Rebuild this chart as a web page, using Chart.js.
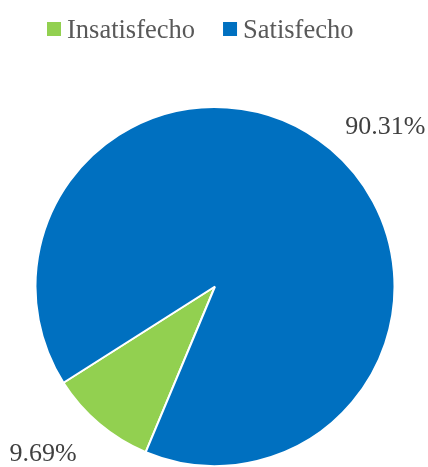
<!DOCTYPE html>
<html>
<head>
<meta charset="utf-8">
<title>Satisfacción</title>
<script src="https://cdn.jsdelivr.net/npm/chart.js@4/dist/chart.umd.min.js"></script>
<style>
  html, body { margin: 0; padding: 0; background: #ffffff; }
  #wrap { width: 428px; height: 467px; }
</style>
</head>
<body>
<div id="wrap"><canvas id="pie" width="428" height="467"></canvas></div>
<script>
// Response categories and their share of respondents (%)
const categories = ['Insatisfecho', 'Satisfecho'];
const shares = [9.69, 90.31];
const shareLabels = ['9.69%', '90.31%'];

const serif = "'Liberation Serif', 'Times New Roman', serif";

// Legend row along the top, drawn from the chart's own labels and colours
const topLegend = {
  id: 'topLegend',
  afterDraw(chart, args, opts) {
    const ctx = chart.ctx;
    const ds = chart.data.datasets[0];
    ctx.save();
    ctx.font = opts.size + 'px ' + serif;
    ctx.textBaseline = 'alphabetic';
    ctx.textAlign = 'left';
    let x = opts.x;
    chart.data.labels.forEach((lab, i) => {
      ctx.fillStyle = ds.backgroundColor[i];
      ctx.fillRect(x, opts.boxTop, opts.box, opts.box);
      const tx = x + opts.box + opts.textGap;
      ctx.fillStyle = opts.color;
      ctx.fillText(lab, tx, opts.baseline);
      x = tx + ctx.measureText(lab).width + opts.itemGap;
    });
    ctx.restore();
  }
};

// Percentage labels placed outside each slice
const outsideLabels = {
  id: 'outsideLabels',
  afterDatasetsDraw(chart, args, opts) {
    const ctx = chart.ctx;
    const meta = chart.getDatasetMeta(0);
    ctx.save();
    ctx.font = opts.size + 'px ' + serif;
    ctx.fillStyle = opts.color;
    ctx.textAlign = 'center';
    ctx.textBaseline = 'middle';
    meta.data.forEach((arc, i) => {
      const p = arc.getProps(['x', 'y', 'startAngle', 'endAngle', 'outerRadius'], true);
      const place = opts.placement[i];
      const a = (p.startAngle + p.endAngle) / 2 + place.turn * Math.PI / 180;
      const r = p.outerRadius * place.reach;
      ctx.fillText(chart.data.datasets[0].labelText[i], p.x + Math.cos(a) * r, p.y + Math.sin(a) * r);
    });
    ctx.restore();
  }
};

new Chart(document.getElementById('pie'), {
  type: 'pie',
  data: {
    labels: categories,
    datasets: [{
      data: shares,
      labelText: shareLabels,
      backgroundColor: ['#92D050', '#0070C0'],
      borderColor: '#ffffff',
      borderWidth: 2
    }]
  },
  options: {
    responsive: false,
    animation: false,
    rotation: 202.7,
    layout: { padding: { left: 32, right: 30, top: 106, bottom: -5 } },
    plugins: {
      legend: { display: false },
      tooltip: { enabled: false },
      topLegend: {
        x: 47, boxTop: 22, box: 14, textGap: 6, itemGap: 28,
        baseline: 37.5, size: 26.5, color: '#595959'
      },
      outsideLabels: {
        size: 26, color: '#404040',
        placement: [ { turn: 5.5, reach: 1.34 }, { turn: 6.7, reach: 1.30 } ]
      }
    }
  },
  plugins: [topLegend, outsideLabels]
});
</script>
</body>
</html>
